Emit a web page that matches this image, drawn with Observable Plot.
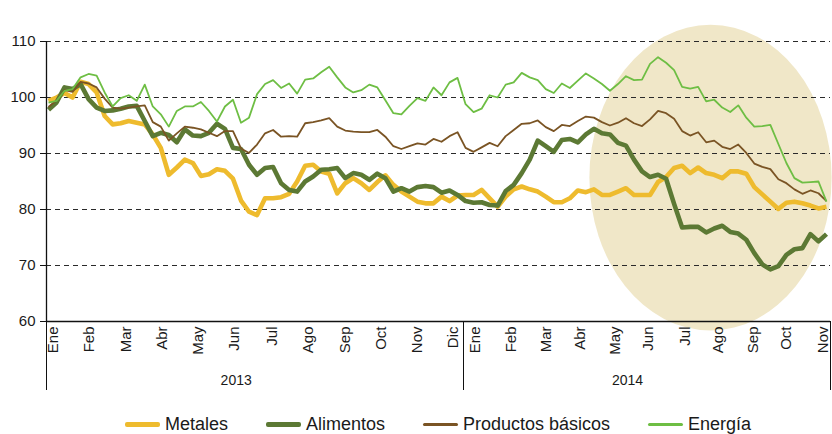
<!DOCTYPE html>
<html><head><meta charset="utf-8">
<script src="https://cdn.jsdelivr.net/npm/d3@7"></script>
<script src="https://cdn.jsdelivr.net/npm/@observablehq/plot@0.6"></script>
<style>
body{margin:0;background:#fff;font-family:"Liberation Sans",Arial,sans-serif;}
#wrap{position:relative;width:832px;height:434px;overflow:hidden;}
#legend{position:absolute;left:46px;right:2px;top:413px;height:22px;display:flex;justify-content:center;align-items:center;font-size:18px;color:#1a1a1a;}
.item{display:flex;align-items:center;margin:0 19px;white-space:nowrap;}
.sw{width:35px;margin-right:5px;border-radius:2px;}
</style></head><body>
<div id="wrap"><div id="chart"></div><div id="legend"></div></div>
<script>
// Weekly index values, Jan 2013 - Nov 2014
const metales = [99.4,100.0,100.8,100.0,102.8,102.4,100.9,96.7,95.2,95.4,95.8,95.5,95.2,93.4,91.0,86.2,87.5,88.9,88.3,86.0,86.3,87.2,86.9,85.5,81.6,79.6,79.0,82.0,82.0,82.2,82.8,85.0,87.8,88.0,86.8,86.4,82.9,84.7,85.6,84.7,83.5,84.9,86.1,84.4,83.2,82.3,81.4,81.1,81.1,82.3,81.5,82.5,82.6,82.6,83.5,82.0,80.5,82.3,83.6,84.1,83.6,83.2,82.3,81.3,81.3,82.0,83.4,83.1,83.6,82.6,82.6,83.2,83.8,82.6,82.6,82.6,84.9,85.8,87.4,87.8,86.5,87.5,86.5,86.2,85.6,86.8,86.8,86.4,84.0,82.7,81.4,80.1,81.2,81.4,81.1,80.7,80.2,80.5];
const alimentos = [97.8,99.1,101.8,101.5,102.4,99.7,98.2,97.6,97.7,98.0,98.4,98.5,95.8,93.1,93.7,93.3,92.0,94.3,93.2,93.1,93.7,95.3,94.4,91.0,90.8,88.0,86.2,87.4,87.6,84.7,83.5,83.2,85.0,85.9,87.1,87.2,87.4,85.6,86.5,86.2,85.3,86.4,85.6,83.2,83.8,83.2,84.0,84.2,84.0,83.0,83.4,82.6,81.5,81.2,81.3,80.8,80.7,83.3,84.4,86.5,88.9,92.3,91.3,90.3,92.4,92.6,92.0,93.4,94.4,93.6,93.4,91.9,91.4,88.9,86.8,85.8,86.2,85.5,81.0,76.8,76.9,76.9,75.9,76.6,77.1,76.0,75.7,74.6,72.2,70.2,69.3,69.9,71.9,72.9,73.1,75.6,74.3,75.6];
const productos = [98.3,99.5,101.3,101.0,102.8,102.5,101.8,99.8,98.2,98.0,98.2,98.4,98.6,95.6,94.8,92.3,93.6,94.8,94.6,94.3,93.7,93.1,94.0,94.0,90.9,90.1,91.6,93.6,94.2,93.0,93.1,93.0,95.4,95.6,95.9,96.3,94.8,94.1,93.9,93.8,93.8,94.2,93.0,91.3,90.8,91.3,91.8,91.6,92.6,92.1,93.1,93.8,91.0,90.3,91.1,91.9,91.3,93.1,94.2,95.3,95.4,95.9,94.7,94.0,95.1,94.9,95.8,96.6,96.4,95.6,95.0,95.5,96.3,95.4,94.9,96.1,97.6,97.2,96.2,94.0,93.2,93.8,92.0,92.3,91.2,90.8,91.6,90.1,88.2,87.6,87.2,85.4,84.7,83.6,82.8,83.4,82.9,81.5];
const energia = [99.1,99.4,101.2,101.5,103.6,104.2,103.9,100.9,98.4,99.9,100.4,99.4,102.3,98.4,97.0,94.8,97.6,98.4,98.4,99.2,97.6,95.7,98.4,99.6,95.5,96.4,100.6,102.4,103.1,101.7,102.5,100.7,103.2,103.4,104.5,105.5,103.6,101.8,100.9,101.3,102.3,101.8,99.5,97.2,97.0,98.5,99.9,99.4,101.8,100.4,102.7,103.5,98.8,97.4,98.0,100.4,100.0,102.3,102.7,104.4,103.6,103.1,101.5,100.8,102.5,101.7,103.0,104.3,103.4,102.4,101.2,102.4,103.8,103.1,103.2,106.0,107.2,106.2,104.9,101.9,101.6,101.9,99.3,99.6,98.2,97.4,98.6,96.4,94.8,94.9,95.1,91.7,88.3,85.6,84.8,84.9,85.0,81.4];

// Month tick labels (position in week index) and years
const monthLabels = ["Ene","Feb","Mar","Abr","May","Jun","Jul","Ago","Sep","Oct","Nov","Dic","Ene","Feb","Mar","Abr","May","Jun","Jul","Ago","Sep","Oct","Nov"];
const monthPos = [0.6,5.1,9.7,14.2,18.7,23.2,27.9,32.4,37.0,41.5,46.0,50.5,53.2,57.7,62.1,66.3,70.6,74.8,79.4,83.5,87.8,92.0,96.6];
const yearLabels = ["2013","2014"];
const yearPos = [23.4,72.2];
const yearBreaks = [-0.25,51.7,97.5];
const yTicks = [60,70,80,90,100,110];
const gridTicks = [70,80,90,100,110];

// Highlight ellipse (data units)
const highlight = {cx: 82.6, cy: 85.6, rx: 15.1, ry: 27.3};

const colors = {Metales:"#eebb2e", Alimentos:"#5c7934", "Productos básicos":"#7a5424", "Energía":"#6ebe44"};
const widths = {Metales:4.6, Alimentos:4.6, "Productos básicos":1.8, "Energía":1.8};
const seriesList = [["Metales",metales],["Alimentos",alimentos],["Productos básicos",productos],["Energía",energia]];

const NS = "http://www.w3.org/2000/svg";
function ellipseMark(index, scales, values, dims) {
  const cx = scales.x(highlight.cx), cy = scales.y(highlight.cy);
  const rx = Math.abs(scales.x(highlight.cx + highlight.rx) - cx);
  const ry = Math.abs(scales.y(highlight.cy + highlight.ry) - cy);
  const e = document.createElementNS(NS, "ellipse");
  e.setAttribute("cx", cx); e.setAttribute("cy", cy);
  e.setAttribute("rx", rx); e.setAttribute("ry", ry);
  e.setAttribute("fill", "#f0e7c8");
  return e;
}
function yearBreakMark(index, scales, values, dims) {
  const g = document.createElementNS(NS, "g");
  const y0 = dims.height - dims.marginBottom;
  for (const b of yearBreaks) {
    const l = document.createElementNS(NS, "line");
    const x = Math.round(scales.x(b)) + 0.5;
    l.setAttribute("x1", x); l.setAttribute("x2", x);
    l.setAttribute("y1", y0); l.setAttribute("y2", y0 + 69);
    l.setAttribute("stroke", "#111"); l.setAttribute("stroke-width", 1);
    g.appendChild(l);
  }
  return g;
}

const labelByPos = new Map(monthPos.map((p, i) => [p, monthLabels[i]]));

const chart = Plot.plot({
  width: 832,
  height: 400,
  marginLeft: 46,
  marginRight: 2,
  marginTop: 41,
  marginBottom: 79,
  style: {fontFamily: '"Liberation Sans", Arial, sans-serif', color: "#1a1a1a", background: "#fff", overflow: "visible"},
  x: {domain: [-0.25, 97.5]},
  y: {domain: [60, 110]},
  marks: [
    ellipseMark,
    Plot.gridY(gridTicks, {stroke: "#2a2a2a", strokeOpacity: 1, strokeWidth: 1, strokeDasharray: "5,4"}),
    ...seriesList.map(([name, vals]) => Plot.line(vals, {
      x: (d, i) => i, y: d => d,
      stroke: colors[name], strokeWidth: widths[name],
      strokeLinejoin: "round", strokeLinecap: "butt"
    })),
    Plot.ruleY([60], {stroke: "#111", strokeWidth: 1.3}),
    Plot.ruleX([-0.25], {y1: 60, y2: 110, stroke: "#111", strokeWidth: 1.3}),
    Plot.axisY(yTicks, {anchor: "left", tickSize: 6, tickPadding: 5, fontSize: 15, stroke: "#111"}),
    Plot.axisX(monthPos, {anchor: "bottom", tickSize: 0, tickPadding: 5, tickRotate: -90, fontSize: 15, tickFormat: d => labelByPos.get(d)}),
    Plot.text(yearLabels, {x: (d, i) => yearPos[i], text: d => d, frameAnchor: "bottom", dy: 63, fontSize: 14}),
    yearBreakMark
  ]
});
document.getElementById("chart").appendChild(chart);

const legend = document.getElementById("legend");
for (const [name] of seriesList) {
  const it = document.createElement("div"); it.className = "item";
  const sw = document.createElement("div"); sw.className = "sw";
  sw.style.height = (widths[name] > 3 ? 5 : 3) + "px";
  sw.style.background = colors[name];
  const t = document.createElement("span"); t.textContent = name;
  it.appendChild(sw); it.appendChild(t); legend.appendChild(it);
}
</script>
</body></html>
